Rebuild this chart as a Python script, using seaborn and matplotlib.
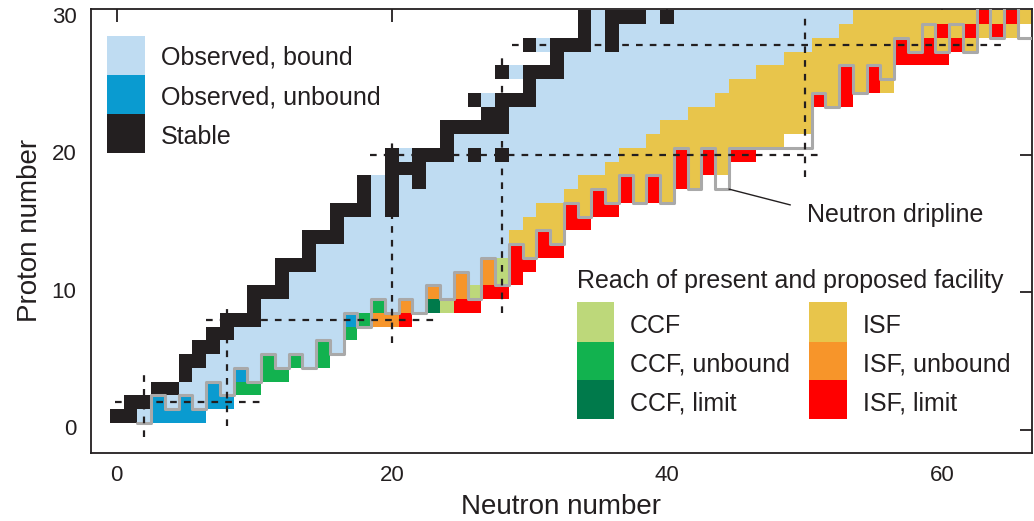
import numpy as np
import pandas as pd
import matplotlib
matplotlib.use("Agg")
import matplotlib.pyplot as plt
import seaborn as sns
from matplotlib.colors import ListedColormap
from matplotlib.patches import Rectangle

# ---------------- data ----------------
# cell categories (char code in the row strings)
CAT_CHARS = ["b", "u", "S", "c", "C", "l", "i", "I", "r"]
CAT_LABELS = ["Observed, bound", "Observed, unbound", "Stable",
              "CCF", "CCF, unbound", "CCF, limit",
              "ISF", "ISF, unbound", "ISF, limit"]
CAT_COLORS = ["#bfdcf2", "#0a9bd0", "#231f20",
              "#bdd87a", "#12b24f", "#007a4b",
              "#e8c54b", "#f7952a", "#ff0000"]

# one entry per proton number Z = 0..30: first neutron number, then one char per cell
ROW_START = [0, 0, 1, 3, 5, 5, 6, 7, 8, 10, 10, 12, 12, 14, 14, 16,
             16, 18, 18, 20, 20, 24, 24, 27, 26, 30, 28, 32, 30, 34, 34]
ROW_CELLS = [
    "",
    "SSbuuuu",
    "SSububuu",
    "SSbbubCC",
    "SbbbubCC",
    "SSbbbbCbCbC",
    "SSbbbbbbbCb",
    "SSbbbbbbbbC",
    "SSSbbbbbbuCIIr",
    "SbbbbbbbbCbIblcrr",
    "SSSbbbbbbbbbbIbIcrr",
    "SbbbbbbbbbbbbIbIcr",
    "SSSbbbbbbbbbbbbIcrr",
    "Sbbbbbbbbbbbbbbrirr",
    "SSSbbbbbbbbbbbbiiri",
    "Sbbbbbbbbbbbbbiiirr",
    "SSSbSbbbbbbbbbbiirirr",
    "SbSbbbbbbbbbbbbiiririri",
    "SbSbSbbbbbbbbbbbiiiririri",
    "SSSbbbbbbbbbbbbbiiiiiriri",
    "SbSSSbSbSbbbbbbbbiiiiririrr",
    "Sbbbbbbbbbbbbbbiiiiiiiiii",
    "SSSSSbbbbbbbbbbbiiiiiiiiiii",
    "SSbbbbbbbbbbbbbiiiiiiiii",
    "SbSSSbbbbbbbbbbbbbiiiiiiirir",
    "Sbbbbbbbbbbbbbbiiiiiiiiriri",
    "SbSSSbbbbbbbbbbbbbbiiiiiiriri",
    "Sbbbbbbbbbbbbbbbbiiiiiiiirrrr",
    "SbSSSbSbbbbbbbbbbbbbbiiiiiiririri",
    "SbSbbbbbbbbbbbbbbbbiiiiiiiririri",
    "SbSSSbSbbbbbbbbbbbbbiiiiiiiiiriri",
]

# neutron dripline: lowest bound proton number for each neutron number
DRIP_N = [2, 3, 4, 5, 6, 7, 8, 9, 10, 11, 12, 13, 14, 15, 16, 17, 18, 19, 20,
          21, 22, 23, 24, 25, 26, 27, 28, 29, 30, 31, 32, 33, 34, 35, 36, 37,
          38, 39, 40, 41, 42, 43, 44, 45, 46, 47, 48, 49, 50, 51, 52, 53, 54,
          55, 56, 57, 58, 59, 60, 61, 62, 63, 64, 65, 66]
DRIP_ZMIN = [1, 3, 2, 3, 2, 4, 3, 5, 4, 6, 5, 6, 5, 7, 6, 9, 8, 10, 9,
             10, 9, 11, 10, 12, 10, 13, 11, 14, 13, 15, 14, 17, 16, 18, 17, 19,
             17, 19, 17, 21, 18, 21, 18, 21, 21, 21, 21, 21, 21, 25, 24, 27, 25,
             27, 26, 29, 28, 30, 28, 30, 28, 32, 29, 32, 29]

# magic-number guide lines
MAGIC_N = [2, 8, 20, 28, 50]
MAGIC_N_ZSPAN = [(-0.5, 4.1), (0.3, 9.1), (6.3, 21.0), (8.5, 27.3), (18.4, 30.2)]
MAGIC_Z = [2, 8, 20, 28]
MAGIC_Z_NSPAN = [(-0.1, 10.6), (6.5, 23.3), (18.4, 51.4), (28.7, 64.7)]

X_TICKS = [0, 20, 40, 60]
Y_TICKS = [0, 10, 20, 30]

# ---------------- build grid ----------------
N_MAX, Z_MAX = 66, 30
grid = np.full((Z_MAX + 1, N_MAX + 1), np.nan)
for z, (n0, cells) in enumerate(zip(ROW_START, ROW_CELLS)):
    for k, ch in enumerate(cells):
        if ch in CAT_CHARS and n0 + k <= N_MAX:
            grid[z, n0 + k] = CAT_CHARS.index(ch) + 1
chart = pd.DataFrame(grid, index=range(Z_MAX + 1), columns=range(N_MAX + 1))

W, H = 1034, 521
INK = "#231f20"
sns.set_theme(style="white")
plt.rcParams["font.family"] = ["Liberation Sans", "DejaVu Sans"]
plt.rcParams["text.color"] = INK

fig = plt.figure(figsize=(W / 100, H / 100), dpi=100)
ax = fig.add_axes([90.5 / W, 1 - 452.7 / H, (1031.7 - 90.5) / W, (452.7 - 9) / H])

sns.heatmap(chart, ax=ax, cmap=ListedColormap(CAT_COLORS), vmin=0.5, vmax=9.5,
            cbar=False, mask=chart.isna(), linewidths=0)

# heatmap cell (N, Z) spans [N, N+1] x [Z, Z+1]; centre at +0.5
ax.set_xlim(-1.9 + 0.5, 66.5 + 0.5)
ax.set_ylim(-1.67 + 0.5, 30.6 + 0.5)
for s in ax.spines.values():
    s.set_visible(True)
    s.set_color(INK)
    s.set_linewidth(1.3)

ax.set_xticks([t + 0.5 for t in X_TICKS])
ax.set_xticklabels([str(t) for t in X_TICKS], rotation=0, fontsize=16)
ax.set_yticks([t + 0.5 for t in Y_TICKS])
ax.set_yticklabels([str(t) for t in Y_TICKS], rotation=0, fontsize=16)
ax.tick_params(direction="in", top=True, right=True, length=9, width=1.3,
               color=INK, labelcolor=INK)
ax.tick_params(axis="x", pad=9)
ax.tick_params(axis="y", pad=10)
ax.set_xlabel("")
ax.set_ylabel("")

# dripline as step outline
xs, ys = [], []
for n, zmin in zip(DRIP_N, DRIP_ZMIN):
    xs += [n, n + 1]
    ys += [zmin, zmin]
sns.lineplot(x=xs, y=ys, sort=False, estimator=None, color="#a9a9a9",
             linewidth=2.2, ax=ax, zorder=3)

dash = (0, (3.0, 3.2))
for n, (z0, z1) in zip(MAGIC_N, MAGIC_N_ZSPAN):
    ax.plot([n + 0.5, n + 0.5], [z0 + 0.5, z1 + 0.5], color=INK, lw=1.6, ls=dash, zorder=4)
for z, (n0, n1) in zip(MAGIC_Z, MAGIC_Z_NSPAN):
    ax.plot([n0 + 0.5, n1 + 0.5], [z + 0.5, z + 0.5], color=INK, lw=1.6, ls=dash, zorder=4)

# callout to dripline
ax.plot([44.5 + 0.5, 48.96 + 0.5], [17.5 + 0.5, 16.35 + 0.5], color=INK, lw=1.0, zorder=5)


def fx(px):
    return px / W


def fy(py):
    return 1 - py / H


fig.text(fx(806.7), fy(221.7), "Neutron dripline", fontsize=18, va="baseline", ha="left")

# legends drawn as swatches
def swatch(x0, y0, x1, y1, color):
    fig.add_artist(Rectangle((fx(x0), fy(y1)), fx(x1) - fx(x0), fy(y0) - fy(y1),
                             transform=fig.transFigure, color=color, lw=0))


LEG1_Y = [35.7, 75.0, 114.3, 153.3]
LEG1_BASE = [65.0, 104.3, 143.5]
for i in range(3):
    swatch(107.3, LEG1_Y[i], 145.0, LEG1_Y[i + 1], CAT_COLORS[i])
    fig.text(fx(161), fy(LEG1_BASE[i]), CAT_LABELS[i], fontsize=18, va="baseline")

fig.text(fx(576.7), fy(288.3), "Reach of present and proposed facility", fontsize=18, va="baseline")
LEG2_Y = [302.3, 341.7, 380.0, 419.3]
LEG2_BASE = [332.7, 371.7, 410.7]
for i in range(3):
    swatch(577.3, LEG2_Y[i], 614.3, LEG2_Y[i + 1], CAT_COLORS[3 + i])
    fig.text(fx(630), fy(LEG2_BASE[i]), CAT_LABELS[3 + i], fontsize=18, va="baseline")
    swatch(809.0, LEG2_Y[i], 846.7, LEG2_Y[i + 1], CAT_COLORS[6 + i])
    fig.text(fx(863), fy(LEG2_BASE[i]), CAT_LABELS[6 + i], fontsize=18, va="baseline")

fig.text(fx(561), fy(507), "Neutron number", fontsize=20, ha="center", va="center")
fig.text(fx(30), fy(230), "Proton number", fontsize=20, ha="center", va="center", rotation=90)

fig.savefig("out.png", dpi=100)
